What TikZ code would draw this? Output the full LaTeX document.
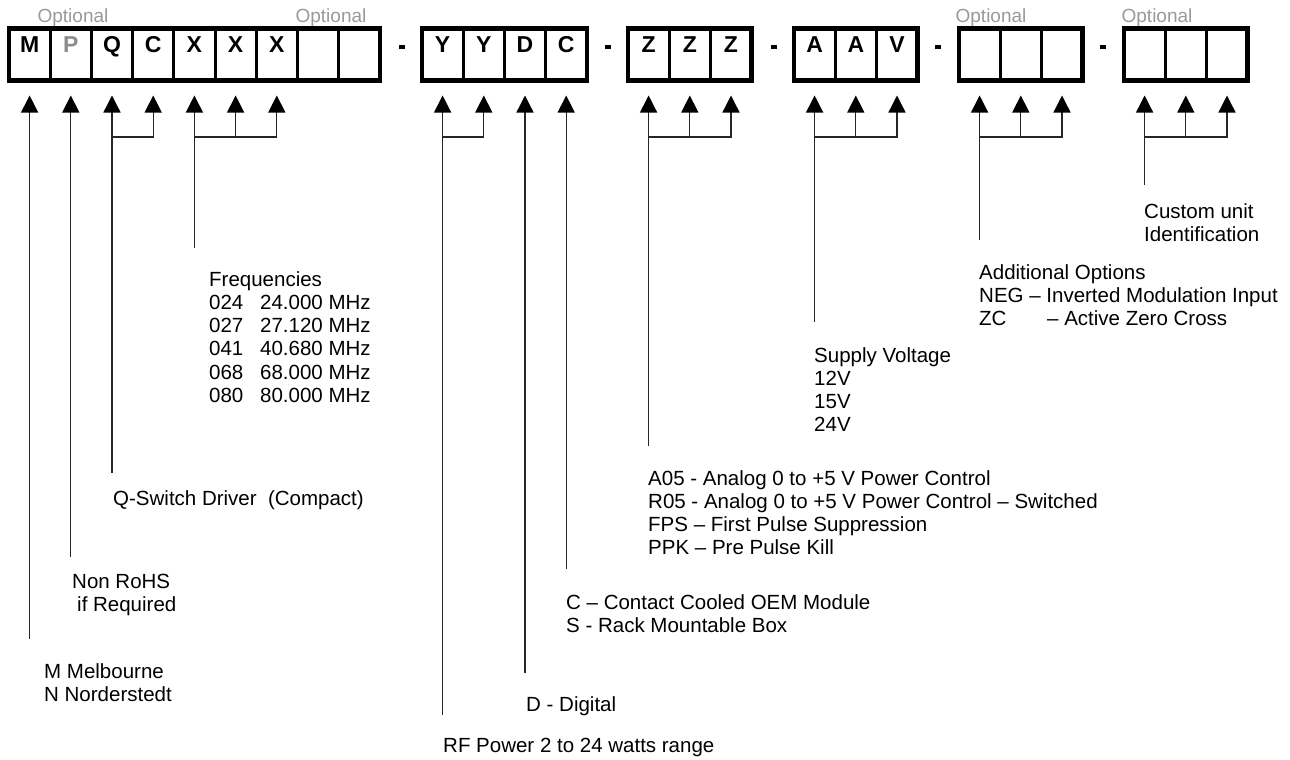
\documentclass[tikz,border=0pt]{standalone}
\usepackage{fontspec}
\setmainfont{Liberation Sans}
\usetikzlibrary{arrows.meta,positioning}

\begin{document}
\begin{tikzpicture}[
    x=1pt, y=-1pt,
    node distance=0pt,
    cell/.style={draw, line width=3pt, outer sep=0pt, inner sep=0pt, minimum width=41.2pt, text height=24pt, text depth=28pt, font=\bfseries\fontsize{23}{23}\selectfont},
    grp/.style={line width=4.5pt},
    dashbox/.style={fill, minimum width=6pt, minimum height=4.5pt, inner sep=0pt},
    opt/.style={anchor=base, text=black!40, font=\fontsize{19}{19}\selectfont},
    txt/.style={anchor=north west, align=left, inner sep=0pt, font=\fontsize{20.5}{23.3}\selectfont},
    arr/.style={-{Triangle[length=17pt,width=17pt,black]}, line width=1.3pt, draw=black!85, shorten >=15pt},
]
    \useasboundingbox (0,0) rectangle (1290,760);

    % code boxes
    \node[cell] (m) at (29.6,54.5) {M};
    \node[cell, right=of m, text=black!45] (p) {P};
    \node[cell, right=of p] (q) {Q};
    \node[cell, right=of q] (c) {C};
    \node[cell, right=of c] (x1) {X};
    \node[cell, right=of x1] (x2) {X};
    \node[cell, right=of x2] (x3) {X};
    \node[cell, right=of x3] (o1) {};
    \node[cell, right=of o1] (o2) {};

    \node[cell] (y1) at (442.6,54.5) {Y};
    \node[cell, right=of y1] (y2) {Y};
    \node[cell, right=of y2] (dd) {D};
    \node[cell, right=of dd] (cc) {C};

    \node[cell] (z1) at (648.6,54.5) {Z};
    \node[cell, right=of z1] (z2) {Z};
    \node[cell, right=of z2] (z3) {Z};

    \node[cell] (a1) at (814.6,54.5) {A};
    \node[cell, right=of a1] (a2) {A};
    \node[cell, right=of a2] (v) {V};

    \node[cell] (n1) at (979.6,54.5) {};
    \node[cell, right=of n1] (n2) {};
    \node[cell, right=of n2] (n3) {};

    \node[cell] (u1) at (1144.6,54.5) {};
    \node[cell, right=of u1] (u2) {};
    \node[cell, right=of u2] (u3) {};

    \draw[grp] (m.north west) rectangle (o2.south east);
    \draw[grp] (y1.north west) rectangle (cc.south east);
    \draw[grp] (z1.north west) rectangle (z3.south east);
    \draw[grp] (a1.north west) rectangle (v.south east);
    \draw[grp] (n1.north west) rectangle (n3.south east);
    \draw[grp] (u1.north west) rectangle (u3.south east);

    \node[dashbox] (s1) at (402,47) {};
    \node[dashbox] (s2) at (608,47) {};
    \node[dashbox] (s3) at (774,47) {};
    \node[dashbox] (s4) at (938,47) {};
    \node[dashbox] (s5) at (1103,47) {};

    \node[opt] (op1) at (73,23) {Optional};
    \node[opt] (op2) at (331,23) {Optional};
    \node[opt] (op3) at (991,23) {Optional};
    \node[opt] (op4) at (1157,23) {Optional};

    % descriptions
    \node[txt] (mel) at (44,663) {M Melbourne\\N Norderstedt};
    \node[txt] (rohs) at (72,574) {Non RoHS\\\hspace{5pt}if Required};
    \node[txt] (qsw) at (113,490) {Q-Switch Driver\ \ (Compact)};
    \node[txt] (freq) at (209,271) {Frequencies\\
        \makebox[51pt][l]{024}24.000 MHz\\
        \makebox[51pt][l]{027}27.120 MHz\\
        \makebox[51pt][l]{041}40.680 MHz\\
        \makebox[51pt][l]{068}68.000 MHz\\
        \makebox[51pt][l]{080}80.000 MHz};
    \node[txt] (rf) at (443,738) {RF Power 2 to 24 watts range};
    \node[txt] (dig) at (526,696) {D - Digital};
    \node[txt] (cool) at (566,594) {C – Contact Cooled OEM Module\\S - Rack Mountable Box};
    \node[txt] (ctrl) at (648,470) {A05 - Analog 0 to +5 V Power Control\\
        R05 - Analog 0 to +5 V Power Control – Switched\\
        FPS – First Pulse Suppression\\
        PPK – Pre Pulse Kill};
    \node[txt] (volt) at (814,347) {Supply Voltage\\12V\\15V\\24V};
    \node[txt] (addopt) at (979,264) {Additional Options\\
        NEG – Inverted Modulation Input\\
        \makebox[68pt][l]{ZC}– Active Zero Cross};
    \node[txt] (cust) at (1144,203) {Custom unit\\Identification};

    % pointers
    \coordinate (j) at (0,137);
    \coordinate (mend) at (m |- 0,639);
    \coordinate (pend) at (p |- 0,557);
    \coordinate (qend) at (q |- 0,473);
    \coordinate (xend) at (x1 |- 0,248);
    \coordinate (yend) at (y1 |- 0,715);
    \coordinate (dend) at (dd |- 0,673);
    \coordinate (cend) at (cc |- 0,569);
    \coordinate (zend) at (z1 |- 0,446);
    \coordinate (aend) at (a1 |- 0,322);
    \coordinate (nend) at (n1 |- 0,240);
    \coordinate (uend) at (u1 |- 0,185);

    \draw[arr] (mend) -- (m.south);
    \draw[arr] (pend) -- (p.south);
    \draw[arr] (qend) -- (q.south);
    \draw[arr] (q |- j) -| (c.south);
    \draw[arr] (xend) -- (x1.south);
    \draw[arr] (x1 |- j) -| (x2.south);
    \draw[arr] (x2 |- j) -| (x3.south);

    \draw[arr] (yend) -- (y1.south);
    \draw[arr] (y1 |- j) -| (y2.south);
    \draw[arr] (dend) -- (dd.south);
    \draw[arr] (cend) -- (cc.south);

    \draw[arr] (zend) -- (z1.south);
    \draw[arr] (z1 |- j) -| (z2.south);
    \draw[arr] (z2 |- j) -| (z3.south);

    \draw[arr] (aend) -- (a1.south);
    \draw[arr] (a1 |- j) -| (a2.south);
    \draw[arr] (a2 |- j) -| (v.south);

    \draw[arr] (nend) -- (n1.south);
    \draw[arr] (n1 |- j) -| (n2.south);
    \draw[arr] (n2 |- j) -| (n3.south);

    \draw[arr] (uend) -- (u1.south);
    \draw[arr] (u1 |- j) -| (u2.south);
    \draw[arr] (u2 |- j) -| (u3.south);
\end{tikzpicture}
\end{document}
